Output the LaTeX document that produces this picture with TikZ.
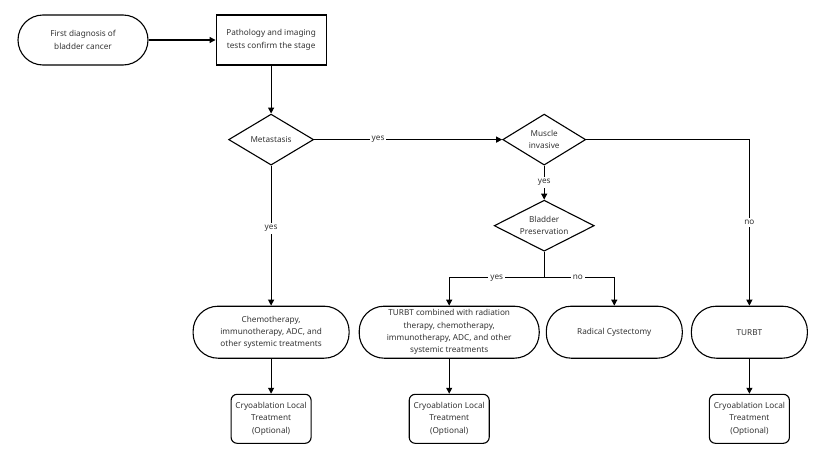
\documentclass[tikz,border=0pt]{standalone}
\usepackage{fontspec}
\setmainfont{Noto Sans}
\usepackage{xcolor}
\usetikzlibrary{shapes.geometric, arrows.meta, positioning}

\definecolor{txt}{HTML}{333333}

\begin{document}
\begin{tikzpicture}[
  x=1pt, y=1pt,
  every node/.style={font=\fontsize{8.2}{12.3}\selectfont, text=txt, align=center},
  pill/.style={draw, line width=1.1pt, rounded corners=25pt, minimum height=52pt, minimum width=#1, inner sep=1pt},
  plainbox/.style={draw, line width=1.1pt, minimum height=50pt, minimum width=110pt},
  cryobox/.style={draw, line width=1.1pt, rounded corners=6pt, minimum height=49pt, minimum width=80pt, inner sep=1pt},
  decide/.style={draw, diamond, line width=1.1pt, aspect=2, inner sep=0pt, minimum height=51pt, minimum width=#1},
  arr/.style={-{Triangle[length=6pt, width=6pt]}, line width=1.1pt},
  link/.style={line width=1.1pt},
  lbl/.style={fill=white, inner sep=2pt},
]
  \useasboundingbox (0,0) rectangle (820,-450);

  \node[pill=130pt, minimum height=50pt] (start) at (83,-40) {First diagnosis of\\bladder cancer};
  \node[plainbox, right=67pt of start] (stage) {Pathology and imaging\\tests confirm the stage};

  \node[decide=85pt, below=48pt of stage]     (meta)   {Metastasis};
  \node[decide=83pt, right=188pt of meta]     (muscle) {Muscle\\invasive};
  \node[decide=100pt, below=34pt of muscle]   (keep)   {Bladder\\Preservation};
  \coordinate[below=26pt of keep] (split);

  \node[pill=156pt, below=140pt of meta]  (chemo)  {Chemotherapy,\\immunotherapy, ADC, and\\other systemic treatments};
  \node[pill=180pt, right=9pt of chemo]   (combo)  {TURBT combined with radiation\\therapy, chemotherapy,\\immunotherapy, ADC, and other\\systemic treatments};
  \node[pill=136pt, right=6pt of combo]   (radical) {Radical Cystectomy};
  \node[pill=116pt, right=8pt of radical] (turbt)  {TURBT};

  \node[cryobox, below=35pt of chemo] (cryoA) {Cryoablation Local\\Treatment\\(Optional)};
  \node[cryobox, below=35pt of combo] (cryoB) {Cryoablation Local\\Treatment\\(Optional)};
  \node[cryobox, below=35pt of turbt] (cryoC) {Cryoablation Local\\Treatment\\(Optional)};

  \draw[arr] (start) -- (stage);
  \draw[arr] (stage) -- (meta);
  \draw[arr] (meta) -- node[lbl, pos=0.34]{yes} (muscle);
  \draw[arr] (meta) -- node[lbl, pos=0.45]{yes} (chemo);
  \draw[arr] (muscle.east) -| node[lbl, pos=0.75]{no} (turbt.north);
  \draw[arr] (muscle) -- node[lbl]{yes} (keep);
  \draw[link] (keep.south) -- (split);
  \draw[arr] (split) -| node[lbl, pos=0.25]{yes} (combo.north);
  \draw[arr] (split) -| node[lbl, pos=0.24]{no} (radical.north);
  \draw[arr] (chemo) -- (cryoA);
  \draw[arr] (combo) -- (cryoB);
  \draw[arr] (turbt) -- (cryoC);
\end{tikzpicture}
\end{document}
